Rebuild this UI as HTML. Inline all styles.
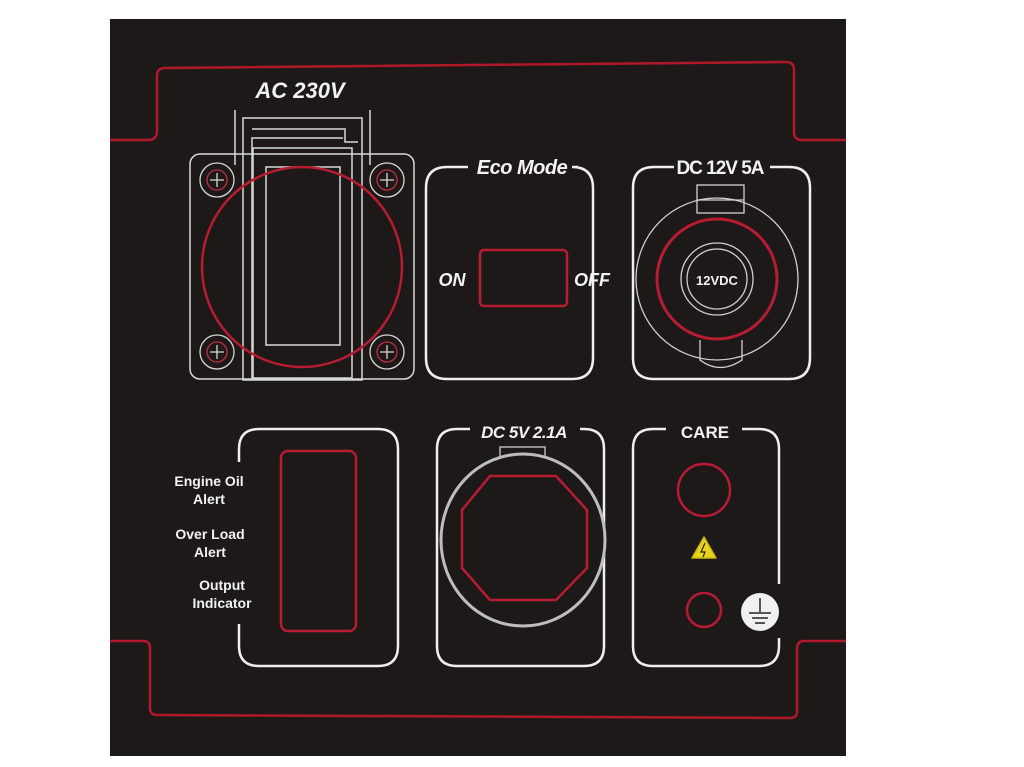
<!DOCTYPE html>
<html><head><meta charset="utf-8"><style>
html,body{margin:0;padding:0;background:#fff;width:1024px;height:767px;overflow:hidden}
svg{display:block}
text{font-family:"Liberation Sans",sans-serif;fill:#f2f2f2}
</style></head><body>
<svg width="1024" height="767" viewBox="0 0 1024 767">
<rect x="0" y="0" width="1024" height="767" fill="#fff"/>
<rect x="110" y="19" width="736" height="737" fill="#1d1919"/>
<!-- red outlines -->
<g fill="none" stroke="#b0182a" stroke-width="2.5">
<path d="M110 140 H148 Q157 140 157 131 V76 Q157 68 165 68 L786 62 Q794 62 794 70 V132 Q794 140 802 140 H846"/>
<path d="M110 641 H143 Q150 641 150 648 V708 Q150 715 157 715 L790 718 Q797 718 797 711 V649 Q797 641 804 641 H846"/>
</g>
<!-- AC socket -->
<g fill="none" stroke="#d8d8d8" stroke-width="1.5">
<rect x="190" y="154" width="224" height="225" rx="10"/>
<path d="M235 110 V165 M370 110 V165"/>
<rect x="243" y="118" width="119" height="262"/>
<path d="M252 380 V138 H343 M252 129 H345 V142 H358"/>
<rect x="253" y="148" width="99" height="230"/>
<rect x="266" y="167" width="74" height="178"/>
</g>
<circle cx="302" cy="267" r="100" fill="none" stroke="#b81c30" stroke-width="2.5"/>
<g fill="none" stroke="#d8d8d8" stroke-width="1.3">
<circle cx="217" cy="180" r="17"/><circle cx="217" cy="180" r="10" stroke="#c03040"/>
<circle cx="387" cy="180" r="17"/><circle cx="387" cy="180" r="10" stroke="#c03040"/>
<circle cx="217" cy="352" r="17"/><circle cx="217" cy="352" r="10" stroke="#c03040"/>
<circle cx="387" cy="352" r="17"/><circle cx="387" cy="352" r="10" stroke="#c03040"/>
<path d="M210 180h14M217 173v14M380 180h14M387 173v14M210 352h14M217 345v14M380 352h14M387 345v14"/>
</g>
<text x="300" y="98" font-size="22" font-weight="bold" font-style="italic" text-anchor="middle">AC 230V</text>
<!-- Eco Mode -->
<g fill="none" stroke="#eeeeee" stroke-width="2.5">
<path d="M468 167 H447 Q426 167 426 188 V358 Q426 379 447 379 H572 Q593 379 593 358 V188 Q593 167 572 167 H578"/>
<path d="M674 167 H654 Q633 167 633 188 V358 Q633 379 654 379 H789 Q810 379 810 358 V188 Q810 167 789 167 H770"/>
</g>
<text x="522" y="174" font-size="20" font-weight="bold" font-style="italic" text-anchor="middle" letter-spacing="-0.5">Eco Mode</text>
<rect x="480" y="250" width="87" height="56" rx="4" fill="none" stroke="#b81c30" stroke-width="2.5"/>
<text x="452" y="286" font-size="18" font-weight="bold" font-style="italic" text-anchor="middle">ON</text>
<text x="592" y="286" font-size="18" font-weight="bold" font-style="italic" text-anchor="middle">OFF</text>
<!-- DC 12V -->
<text x="720" y="174" font-size="19" font-weight="bold" text-anchor="middle" letter-spacing="-1">DC 12V 5A</text>
<g fill="none" stroke="#d0d0d0" stroke-width="1.3">
<circle cx="717" cy="279" r="81"/>
<rect x="697" y="185" width="47" height="28"/>
<path d="M697 200 H744"/>
<path d="M700 340 V360 Q720 375 742 360 V340"/>
<circle cx="717" cy="279" r="36"/>
<circle cx="717" cy="279" r="30"/>
</g>
<circle cx="717" cy="279" r="60" fill="none" stroke="#b81c30" stroke-width="3"/>
<text x="717" y="285" font-size="13" font-weight="bold" text-anchor="middle">12VDC</text>
<!-- bottom row boxes -->
<g fill="none" stroke="#eeeeee" stroke-width="2.5">
<path d="M239 462 V449 Q239 429 259 429 H378 Q398 429 398 449 V646 Q398 666 378 666 H259 Q239 666 239 646 V624"/>
<path d="M470 429 H457 Q437 429 437 449 V646 Q437 666 457 666 H584 Q604 666 604 646 V449 Q604 429 584 429 H580"/>
<path d="M666 429 H653 Q633 429 633 449 V646 Q633 666 653 666 H759 Q779 666 779 646 V638 M779 584 V449 Q779 429 759 429 H742"/>
</g>
<rect x="281" y="451" width="75" height="180" rx="7" fill="none" stroke="#b81c30" stroke-width="2.5"/>
<g font-size="14" font-weight="bold" text-anchor="middle">
<text x="209" y="486">Engine Oil</text><text x="209" y="504">Alert</text>
<text x="210" y="539">Over Load</text><text x="210" y="557">Alert</text>
<text x="222" y="590">Output</text><text x="222" y="608">Indicator</text>
</g>
<text x="524" y="438" font-size="17" font-weight="bold" font-style="italic" text-anchor="middle" letter-spacing="-0.5">DC 5V 2.1A</text>
<rect x="500" y="447" width="45" height="18" fill="none" stroke="#cfcfcf" stroke-width="1.3"/>
<ellipse cx="523" cy="540" rx="82" ry="86" fill="#1d1919" stroke="#bdbdbd" stroke-width="3"/>
<path d="M490 476 H556 L587 510 V568 L556 600 H490 L462 568 V510 Z" fill="none" stroke="#b81c30" stroke-width="2.5" stroke-linejoin="round"/>
<text x="705" y="438" font-size="17" font-weight="bold" text-anchor="middle">CARE</text>
<circle cx="704" cy="490" r="26" fill="none" stroke="#b81c30" stroke-width="2.5"/>
<path d="M704 537 L716 558 H692 Z" fill="#e8d41a" stroke="#c9b40f" stroke-width="1.5" stroke-linejoin="round"/>
<path d="M705 543 L701 552 H705 L703 557" stroke="#222" stroke-width="1.2" fill="none"/>
<circle cx="704" cy="610" r="17" fill="none" stroke="#b81c30" stroke-width="2.5"/>
<circle cx="760" cy="612" r="19" fill="#f0f0f0"/>
<path d="M760 598 V612 M749 613 H771 M752 618 H768 M755 623 H765" stroke="#222" stroke-width="1.5"/>
</svg>
</body></html>
